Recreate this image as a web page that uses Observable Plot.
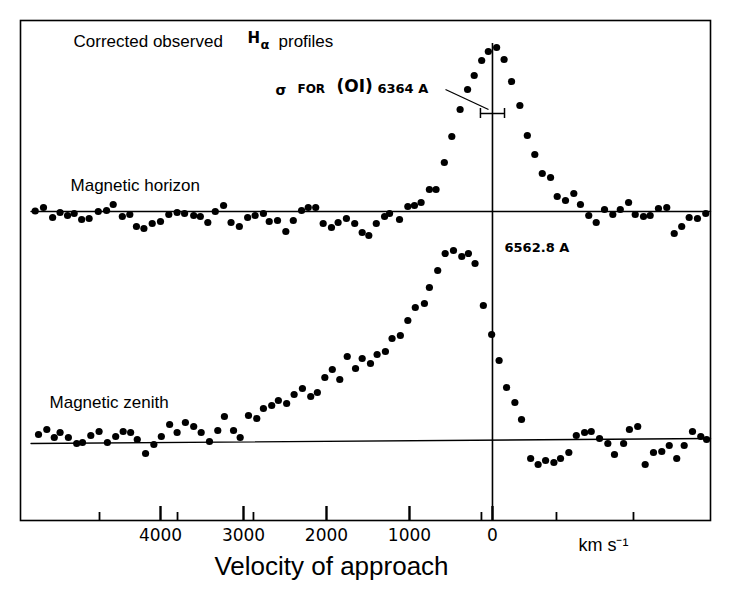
<!DOCTYPE html>
<html><head><meta charset="utf-8">
<script src="https://cdn.jsdelivr.net/npm/d3@7"></script>
<script src="https://cdn.jsdelivr.net/npm/@observablehq/plot@0.6"></script>
<style>body{margin:0;background:#fff}#chart svg{display:block}</style>
</head><body><div id="chart"></div>
<script>
// Velocity of approach (km/s) and intensity above each profile's baseline
const horizonVelocity = [5510,5410,5300,5210,5120,5040,4950,4860,4750,4650,4570,4460,4370,4290,4200,4100,4000,3900,3800,3710,3600,3520,3430,3340,3240,3150,3050,2950,2860,2760,2690,2590,2490,2400,2300,2220,2130,2040,1940,1860,1760,1660,1570,1490,1400,1300,1240,1120,1020,940,860,760,680,580,490,390,300,220,130,50,-50,-140,-230,-330,-420,-510,-600,-700,-780,-880,-980,-1060,-1160,-1250,-1350,-1450,-1540,-1640,-1720,-1820,-1900,-2000,-2100,-2190,-2280,-2370,-2470,-2570];
const horizonIntensity = [0.1,0.8,-1.2,-0.2,-0.8,-0.4,-1.6,-1.4,0,0.2,1.4,-1.0,-0.6,-3.0,-3.4,-2.4,-2.0,-0.6,-0.2,-0.4,-0.8,-1.0,-2.2,0,1.2,-2.2,-3.0,-1.2,-0.8,-0.4,-2.0,-1.8,-4.0,-1.8,0.2,0.8,0.8,-2.4,-3.2,-2.2,-1.4,-2.4,-4.2,-4.8,-2.4,-1.0,-0.4,-1.6,1.0,1.2,1.8,4.4,4.4,9.8,15.0,20.4,24.4,27.2,30.2,32.0,32.8,30.4,26.0,21.2,15.2,11.4,7.6,6.8,3.0,2.2,3.6,1.4,-0.8,-2.2,0.4,-0.6,0.4,1.8,-0.6,-1.0,-0.8,0.6,0.8,-4.4,-3.0,-1.2,-1.4,-0.4];
const zenithVelocity = [5470,5370,5280,5210,5110,5010,4940,4840,4740,4640,4540,4450,4360,4280,4180,4080,3990,3890,3800,3700,3600,3510,3410,3310,3230,3120,3040,2940,2840,2760,2660,2580,2480,2390,2290,2190,2110,2020,1930,1840,1750,1650,1570,1470,1390,1290,1210,1110,1020,930,820,760,660,570,470,370,290,210,110,10,-80,-170,-270,-350,-460,-550,-640,-740,-820,-920,-1010,-1110,-1190,-1290,-1390,-1470,-1580,-1650,-1750,-1840,-1940,-2040,-2130,-2220,-2310,-2410,-2510,-2580];
const zenithIntensity = [1.8,2.8,1.2,2.2,1.2,0,0.2,1.6,2.4,0.2,1.4,2.4,2.2,0.8,-2.0,-0.2,1.4,3.8,2.2,4.2,3.4,2.2,0.4,2.6,5.4,2.6,1.2,5.6,5.0,7.0,7.6,8.6,8.0,9.8,11.0,9.4,10.2,13.2,14.8,12.8,17.4,15.0,17.0,16.0,17.8,18.4,21.0,21.6,24.6,27.2,28.0,31.2,34.6,38.0,38.6,37.4,38.0,36.0,27.6,21.8,16.6,11.2,8.2,4.8,-3.0,-4.2,-3.4,-3.8,-3.0,-1.8,1.6,2.2,2.4,1.0,0,-2.2,0,2.8,3.4,-4.2,-1.8,-1.6,-0.4,-3.0,-0.4,2.4,1.4,0.8];
// vertical offsets of the two profiles (baselines)
const horizonOffset = 61.8;
const zenithOffsetLeft = 15.4;
const zenithOffsetRight = 16.4;
const velocityRange = [5560, -2627];
const axisTicks = [4000, 3000, 2000, 1000, 0];
const minorTicks = [4735, 3795, 2880, 133, -771, -1699];
const sigmaOI = 145;

const horizon = horizonVelocity.map((v, i) => ({v, y: horizonOffset + horizonIntensity[i]}));
const zenith = zenithVelocity.map((v, i) => ({v, y: zenithOffsetLeft + zenithIntensity[i]}));
const horizonBase = [{v: velocityRange[0], y: horizonOffset}, {v: velocityRange[1], y: horizonOffset}];
const zenithBase = [{v: velocityRange[0], y: zenithOffsetLeft}, {v: velocityRange[1], y: zenithOffsetRight}];

const arial = "Liberation Sans, Arial, sans-serif";
const letter = "DejaVu Sans, sans-serif";

const chart = Plot.plot({
  width: 734, height: 599,
  marginLeft: 20, marginRight: 24, marginTop: 20, marginBottom: 79,
  x: {type: "linear", domain: [5687, -2627], axis: null},
  y: {domain: [0, 100], axis: null},
  style: {background: "white", color: "black", fontFamily: arial},
  marks: [
    Plot.frame({stroke: "black", strokeWidth: 1.6}),
    Plot.ruleX([0], {y1: 0, y2: 95.4, stroke: "black", strokeWidth: 1.6}),
    Plot.line(horizonBase, {x: "v", y: "y", stroke: "black", strokeWidth: 1.4}),
    Plot.line(zenithBase, {x: "v", y: "y", stroke: "black", strokeWidth: 1.4}),
    Plot.ruleX(axisTicks, {x: d => d, y1: 0, y2: 2.8, stroke: "black", strokeWidth: 2.4}),
    Plot.ruleX(minorTicks, {x: d => d, y1: 0, y2: 1.6, stroke: "black", strokeWidth: 1.8}),
    Plot.dot(horizon, {x: "v", y: "y", r: 3.6, fill: "black"}),
    Plot.dot(zenith, {x: "v", y: "y", r: 3.6, fill: "black"}),
    // sigma error bar for [OI] 6364
    Plot.ruleY([81.4], {x1: sigmaOI, x2: -sigmaOI, stroke: "black", strokeWidth: 1.5}),
    Plot.ruleX([sigmaOI, -sigmaOI], {x: d => d, y1: 80.4, y2: 82.4, stroke: "black", strokeWidth: 1.5}),
    Plot.link([{x1: 566, y1: 86.2, x2: 48, y2: 82.2}], {x1: "x1", y1: "y1", x2: "x2", y2: "y2", stroke: "black", strokeWidth: 1.3}),
    Plot.text(["σ"], {x: 2614, y: 86.0, text: d => d, textAnchor: "start", fontSize: 14, fontWeight: "bold", fontFamily: letter}),
    Plot.text(["FOR"], {x: 2350, y: 86.2, text: d => d, textAnchor: "start", fontSize: 12, fontWeight: "bold", fontFamily: letter}),
    Plot.text(["(OI)"], {x: 1880, y: 86.8, text: d => d, textAnchor: "start", fontSize: 17, fontWeight: "bold", fontFamily: letter}),
    Plot.text(["6364 A"], {x: 1386, y: 86.4, text: d => d, textAnchor: "start", fontSize: 13, fontWeight: "bold", fontFamily: letter}),
    Plot.text(["6562.8 A"], {x: -145, y: 54.6, text: d => d, textAnchor: "start", fontSize: 13, fontWeight: "bold", fontFamily: letter}),
    // titles
    Plot.text(["Corrected observed"], {x: 5048, y: 95.8, text: d => d, textAnchor: "start", fontSize: 17}),
    Plot.text(["H"], {x: 2952, y: 96.4, text: d => d, textAnchor: "start", fontSize: 15, fontWeight: "bold", fontFamily: letter}),
    Plot.text(["α"], {x: 2795, y: 95.2, text: d => d, textAnchor: "start", fontSize: 13, fontWeight: "bold", fontFamily: letter}),
    Plot.text(["profiles"], {x: 2578, y: 95.8, text: d => d, textAnchor: "start", fontSize: 17}),
    Plot.text(["Magnetic horizon"], {x: 5084, y: 67, text: d => d, textAnchor: "start", fontSize: 17}),
    Plot.text(["Magnetic zenith"], {x: 5337, y: 23.6, text: d => d, textAnchor: "start", fontSize: 17}),
    // axis labels
    Plot.text(axisTicks, {x: d => d, y: -3, text: d => String(d), fontSize: 17, fontFamily: letter}),
    Plot.text(["km s⁻¹"], {x: -1036, y: -5, text: d => d, textAnchor: "start", fontSize: 18}),
    Plot.text(["Velocity of approach"], {x: 1940, y: -9.2, text: d => d, fontSize: 26})
  ]
});
document.getElementById("chart").appendChild(chart);
</script>
</body></html>
